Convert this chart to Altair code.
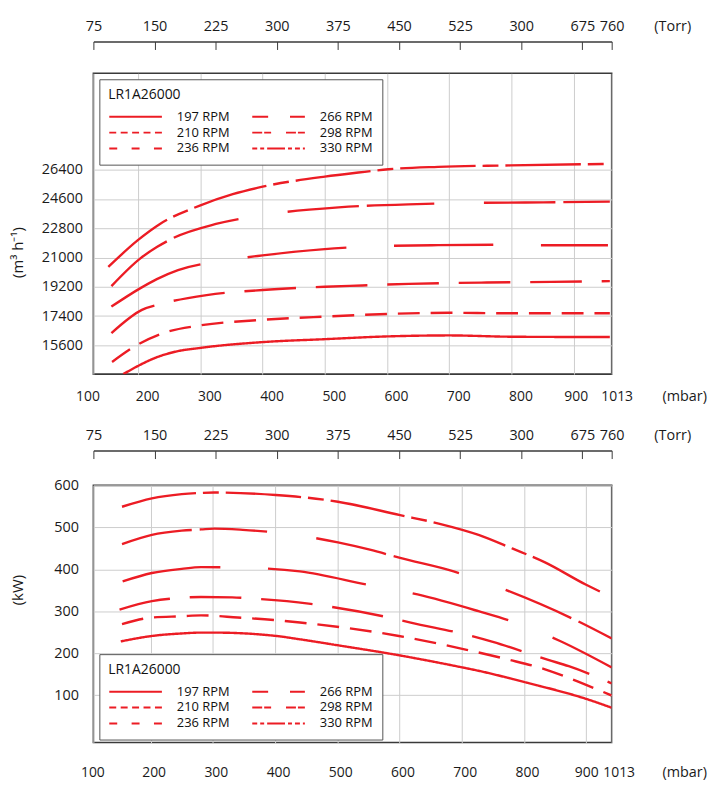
import altair as alt
import pandas as pd

RED = "#ec1c24"
FONT = "Open Sans"
FRAME = "#3a3a3a"
GRID = "#cdcdcd"
W = 522

# ---------------- data ----------------
rpm_names = ["197 RPM", "210 RPM", "236 RPM", "266 RPM", "298 RPM", "330 RPM"]

# top chart: volume flow (m3/h) vs inlet pressure (mbar)
q_mbar_197 = [176, 199, 230, 262, 299, 400, 500, 601, 700, 800, 958]
q_197 = [13830, 14320, 14870, 15230, 15440, 15800, 15980, 16150, 16210, 16130, 16110]
q_mbar_210 = [158, 199, 240, 299, 400, 500, 601, 700, 800, 958]
q_210 = [14580, 15640, 16350, 16820, 17170, 17370, 17530, 17600, 17570, 17570]
q_mbar_236 = [157, 206, 236, 310, 400, 500, 560, 635, 760, 864, 958]
q_236 = [16350, 17780, 18140, 18690, 19000, 19200, 19280, 19380, 19460, 19500, 19550]
q_mbar_266 = [157, 203, 230, 264, 341, 400, 495, 574, 682, 774, 852, 955]
q_266 = [17980, 19100, 19670, 20220, 20830, 21130, 21500, 21680, 21760, 21780, 21750, 21750]
q_mbar_298 = [157, 203, 230, 256, 325, 395, 522, 648, 718, 851, 958]
q_298 = [19240, 20930, 21640, 22190, 23060, 23580, 24080, 24280, 24340, 24390, 24430]
q_mbar_330 = [152, 199, 235, 299, 352, 400, 500, 554, 602, 682, 798, 953]
q_330 = [20420, 22050, 23060, 24190, 24890, 25350, 25970, 26220, 26420, 26570, 26660, 26750]

# bottom chart: power (kW) vs inlet pressure (mbar)
p_mbar_197 = [152, 202, 250, 281, 302, 402, 440, 500, 599, 701, 727, 801, 900, 941]
p_197 = [228, 241, 247, 249, 249, 241, 233, 219, 195, 166, 158, 131, 91, 70]
p_mbar_210 = [154, 202, 250, 281, 340, 398, 440, 599, 708, 774, 835, 894, 941]
p_210 = [269, 285, 288, 290, 285, 279, 273, 241, 208, 185, 161, 128, 99]
p_mbar_236 = [150, 202, 250, 281, 331, 365, 454, 488, 583, 618, 716, 750, 839, 872, 941]
p_236 = [304, 324, 332, 334, 333, 330, 318, 311, 285, 273, 241, 227, 184, 169, 128]
p_mbar_266 = [155, 202, 250, 281, 365, 440, 549, 629, 727, 784, 858, 941]
p_266 = [371, 391, 401, 405, 403, 395, 363, 340, 300, 274, 229, 166]
p_mbar_298 = [154, 202, 250, 281, 302, 348, 427, 501, 554, 601, 687, 765, 891, 941]
p_298 = [460, 482, 492, 495, 497, 494, 483, 464, 446, 427, 395, 354, 273, 235]
p_mbar_330 = [154, 202, 250, 281, 302, 401, 501, 601, 663, 727, 782, 833, 900, 932]
p_330 = [549, 569, 579, 582, 583, 577, 561, 529, 509, 482, 449, 417, 363, 340]

# axis ticks / labels
flow_ticks = [15600, 17400, 19200, 21000, 22800, 24600, 26400]
power_ticks = [100, 200, 300, 400, 500, 600]
top_x_pos = [128, 200, 300, 400, 500, 600, 700, 800, 900, 961]
bot_x_pos = [108, 200, 300, 400, 500, 600, 700, 800, 900, 941]
x_text = ["100", "200", "300", "400", "500", "600", "700", "800", "900", "1013"]
torr_pos = [75, 150, 225, 300, 375, 450, 525, 600, 675, 711]
torr_text = ["75", "150", "225", "300", "375", "450", "525", "300", "675", "760"]


def frame(mbars, vals):
    rows = []
    for name, xs, ys in zip(rpm_names, mbars, vals):
        for x, y in zip(xs, ys):
            rows.append({"rpm": name, "mbar": x, "val": y})
    return pd.DataFrame(rows)


flow_df = frame([q_mbar_197, q_mbar_210, q_mbar_236, q_mbar_266, q_mbar_298, q_mbar_330],
                [q_197, q_210, q_236, q_266, q_298, q_330])
power_df = frame([p_mbar_197, p_mbar_210, p_mbar_236, p_mbar_266, p_mbar_298, p_mbar_330],
                 [p_197, p_210, p_236, p_266, p_298, p_330])

# ---------------- styles ----------------
plot_dash = {"197 RPM": [1, 0], "210 RPM": [22, 11], "236 RPM": [52, 20],
             "266 RPM": [100, 48], "298 RPM": [72, 8, 68, 50], "330 RPM": [76, 7, 16, 7]}
legend_dash = {"197 RPM": [1, 0], "210 RPM": [7, 4.5], "236 RPM": [8, 14.5],
               "266 RPM": [16, 22], "298 RPM": [10, 2, 7, 15],
               "330 RPM": [5, 3, 4, 3, 18, 3, 4, 3, 5, 3]}


def label_expr(pos, text):
    return " : ".join(f"datum.value == {p} ? '{t}'" for p, t in zip(pos, text)) + " : ''"


def panel(df, x_dom, x_pos, x_off, x_pad, y_dom, y_ticks, y_title, y_title_y,
          y_pad, height, legend_y):
    xenc = alt.X("mbar:Q", scale=alt.Scale(domain=x_dom, nice=False, zero=False),
                 axis=alt.Axis(values=x_pos, labelExpr=label_expr(x_pos, x_text),
                               labelOffset=x_off, labelPadding=x_pad, labelFlush=False,
                               labelOverlap=False, ticks=False, tickSize=0, domain=False,
                               labelFontSize=14,
                               title="(mbar)", titleX=595, titleY=x_pad,
                               titleBaseline="top", titleAlign="center"))
    yenc = alt.Y("val:Q", scale=alt.Scale(domain=y_dom, nice=False, zero=False),
                 axis=alt.Axis(values=y_ticks, format="d", labelPadding=y_pad,
                               ticks=False, tickSize=0, domain=False,
                               title=y_title, titleX=-76, titleY=y_title_y,
                               titleAngle=270, titleAlign="center",
                               titleBaseline="middle", titleFontSize=15))
    lines = alt.Chart(df).mark_line(color=RED, strokeWidth=2.4, clip=True,
                                    interpolate="monotone").encode(
        x=xenc, y=yenc,
        strokeDash=alt.StrokeDash(
            "rpm:N", legend=None,
            scale=alt.Scale(domain=rpm_names, range=[plot_dash[r] for r in rpm_names])))
    first = df.groupby("rpm", as_index=False).first()
    leg = alt.Chart(first).mark_line(color=RED, strokeWidth=2).encode(
        x=xenc, y=yenc,
        strokeDash=alt.StrokeDash(
            "rpm:N",
            scale=alt.Scale(domain=rpm_names, range=[legend_dash[r] for r in rpm_names]),
            legend=alt.Legend(title="LR1A26000", orient="none", legendX=6, legendY=legend_y,
                              columns=2, columnPadding=21, rowPadding=2,
                              symbolType="stroke", symbolSize=2809, symbolStrokeWidth=2,
                              symbolStrokeColor=RED, clipHeight=13.5, labelOffset=14,
                              labelFontSize=13, labelFont=FONT, labelColor="#111111",
                              titleFontSize=14, titleFontWeight="normal", titleFont=FONT,
                              titleColor="#111111", titlePadding=8, padding=9,
                              strokeColor="#555555", fillColor="white")))
    return alt.layer(lines, leg).resolve_scale(strokeDash="independent").properties(
        width=W, height=height, view=alt.ViewBackground(stroke=FRAME, strokeWidth=1.6))


def strip(height, offset):
    tdf = pd.DataFrame({"torr": torr_pos})
    return alt.Chart(tdf).mark_point(opacity=0).encode(
        x=alt.X("torr:Q", scale=alt.Scale(domain=[75, 711], nice=False, zero=False),
                axis=alt.Axis(values=torr_pos, labelExpr=label_expr(torr_pos, torr_text),
                              orient="bottom", offset=offset, grid=False,
                              tickSize=8, tickWidth=1, domainWidth=1.5,
                              labelBaseline="alphabetic", labelPadding=-19.5,
                              labelFlush=False, labelOverlap=False,
                              title="(Torr)", titleX=583, titleY=-11.5,
                              titleBaseline="alphabetic", titleAlign="center"))
    ).properties(width=W, height=height, view=alt.ViewBackground(strokeWidth=0))


top = panel(flow_df, [128, 961], top_x_pos,
            {"condition": [{"test": "datum.value < 150", "value": -6},
                           {"test": "datum.value == 900", "value": 2},
                           {"test": "datum.value > 950", "value": 5}], "value": 9},
            15.7, [13830, 32320], flow_ticks, "(m³ h⁻¹)", 180, 11, 303, 6)
bottom = panel(power_df, [108, 941], bot_x_pos,
               {"condition": [{"test": "datum.value < 150", "value": -1},
                              {"test": "datum.value == 900", "value": 0},
                              {"test": "datum.value > 930", "value": 7}], "value": 3},
               23.2, [-13, 600], power_ticks, "(kW)", 105, 15, 259, 170)

chart = alt.vconcat(strip(1, 3), top, strip(42, 0), bottom, spacing=35, bounds="flush").properties(
    padding={"left": 2, "top": 7, "right": 0, "bottom": 0}
).configure(font=FONT).configure_axis(
    labelFont=FONT, titleFont=FONT, labelFontSize=14.5, titleFontSize=14.5,
    labelColor="#1a1a1a", titleColor="#1a1a1a", titleFontWeight="normal",
    gridColor=GRID, gridWidth=1, domainColor=FRAME, tickColor=FRAME
)

chart.save("out.html", embed_options={"renderer": "svg", "actions": False})
